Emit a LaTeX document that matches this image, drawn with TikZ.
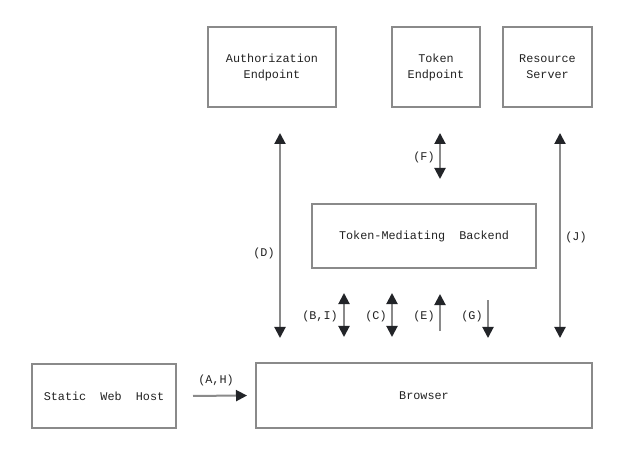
\documentclass[tikz,border=0pt]{standalone}
\usepackage{fontspec}
\setmonofont{Liberation Mono}
\usetikzlibrary{arrows.meta,calc}
\definecolor{linec}{HTML}{8A8A8A}
\definecolor{tipc}{HTML}{222428}
\definecolor{txtc}{HTML}{222222}
\begin{document}
\begin{tikzpicture}[x=1bp,y=-1bp,
  every node/.style={font=\ttfamily\fontsize{11.8bp}{16bp}\selectfont, text=txtc, inner sep=0pt},
  box/.style={draw=linec, line width=2bp, align=center},
  conn/.style={draw=linec, line width=2bp},
  tip/.style={Triangle[length=11bp,width=11bp,color=tipc]},
  both/.style={conn, {Triangle[length=11bp,width=11bp,color=tipc]}-{Triangle[length=11bp,width=11bp,color=tipc]}},
  fwd/.style={conn, -{Triangle[length=11bp,width=11bp,color=tipc]}},
  lbl/.style={}]
\useasboundingbox (0,0) rectangle (620,457);
\fill[white] (0,0) rectangle (620,457);
% boxes
\node[box, minimum width=128bp, minimum height=80bp] (auth) at (272,67) {Authorization\\Endpoint};
\node[box, minimum width=88bp, minimum height=80bp] (token) at (436,67) {Token\\Endpoint};
\node[box, minimum width=89bp, minimum height=80bp] (res) at (547.5,67) {Resource\\Server};
\node[box, minimum width=224bp, minimum height=64bp] (backend) at (424,236) {Token-Mediating\ \ Backend};
\node[box, minimum width=144bp, minimum height=64bp] (host) at (104,396) {Static\ \ Web\ \ Host};
\node[box, minimum width=336bp, minimum height=65bp] (browser) at (424,395.5) {Browser};
% x positions
\coordinate (xD) at (280,0);
\coordinate (xF) at (440,0);
\coordinate (xJ) at (560,0);
\coordinate (xB) at (344,0);
\coordinate (xC) at (392,0);
\coordinate (xE) at (440,0);
\coordinate (xG) at (488,0);
% connectors
\draw[both, shorten <=24bp, shorten >=25bp] (browser.north -| xD) -- (auth.south -| xD);
\draw[both, shorten <=24bp, shorten >=25bp] (browser.north -| xJ) -- (res.south -| xJ);
\draw[both, shorten <=24bp, shorten >=25bp] (backend.north -| xF) -- (token.south -| xF);
\draw[both, shorten <=24bp, shorten >=25bp] (backend.south -| xB) -- (browser.north -| xB);
\draw[both, shorten <=24bp, shorten >=25bp] (backend.south -| xC) -- (browser.north -| xC);
\draw[fwd, shorten <=31bp, shorten >=25bp] (browser.north -| xE) -- (backend.south -| xE);
\draw[fwd, shorten <=31bp, shorten >=24bp] (backend.south -| xG) -- (browser.north -| xG);
\draw[fwd, shorten <=16bp, shorten >=8bp] (host.east) -- (browser.west);
% labels
\node (lD) at (264,253) {(D)};
\node (lJ) at (576,237) {(J)};
\node (lF) at (424,157) {(F)};
\node (lB) at (320,316) {(B,I)};
\node (lC) at (376,316) {(C)};
\node (lE) at (424,316) {(E)};
\node (lG) at (472,316) {(G)};
\node (lA) at (216,380) {(A,H)};
\end{tikzpicture}
\end{document}
